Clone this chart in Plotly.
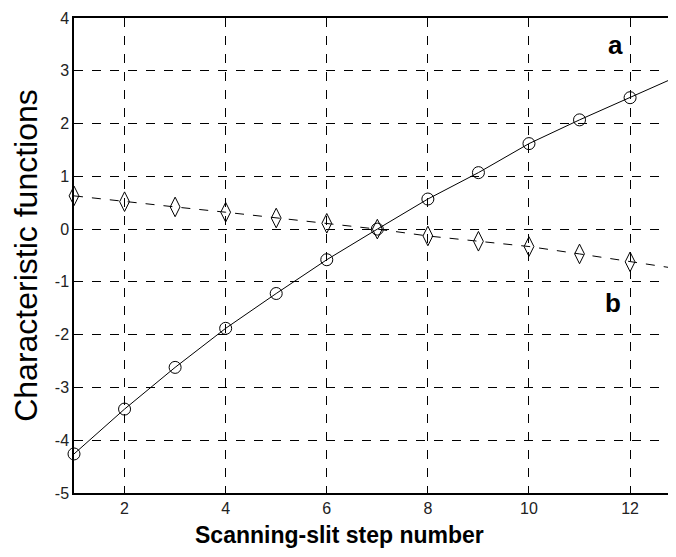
import plotly.graph_objects as go

steps = list(range(1, 14))
curve_a = [-4.26, -3.41, -2.62, -1.88, -1.22, -0.58, 0.0, 0.57, 1.07, 1.62, 2.07, 2.49, 2.92]
curve_b = [0.63, 0.52, 0.42, 0.32, 0.21, 0.11, 0.0, -0.13, -0.23, -0.33, -0.47, -0.62, -0.76]
x_ticks = [2, 4, 6, 8, 10, 12]
y_ticks = [-5, -4, -3, -2, -1, 0, 1, 2, 3, 4]
y_tick_text = [str(v) for v in y_ticks]

FONT = "Liberation Sans, Arial"

fig = go.Figure()
fig.add_trace(go.Scatter(
    x=steps, y=curve_b, mode="lines+markers",
    line=dict(color="black", width=1, dash="dash"),
    marker=dict(symbol="diamond-tall-open", size=14, color="black", line=dict(width=1)),
    showlegend=False, cliponaxis=False))
fig.add_trace(go.Scatter(
    x=steps, y=curve_a, mode="lines+markers",
    line=dict(color="black", width=1),
    marker=dict(symbol="circle-open", size=12, color="black", line=dict(width=1)),
    showlegend=False, cliponaxis=False))

fig.add_annotation(x=11.72, y=3.49, text="<b>a</b>", showarrow=False,
                   font=dict(family=FONT, size=26, color="black"))
fig.add_annotation(x=11.66, y=-1.40, text="<b>b</b>", showarrow=False,
                   font=dict(family=FONT, size=26, color="black"))
fig.add_annotation(x=6.26, xref="x", y=-0.088, yref="paper", yanchor="middle",
                   text="<b>Scanning-slit step number</b>", showarrow=False,
                   font=dict(family=FONT, size=23, color="black"))

fig.update_xaxes(range=[1, 12.75], tickvals=x_ticks, ticks="inside", ticklen=6,
                 tickcolor="black", showline=True, linecolor="black", linewidth=1.5,
                 mirror=True, showgrid=True, gridcolor="black", griddash="dash",
                 gridwidth=1, zeroline=False, automargin=False, ticklabeloverflow="allow",
                 tickfont=dict(family=FONT, size=16, color="#222"))
fig.update_yaxes(range=[-5, 4], tickvals=y_ticks, ticktext=y_tick_text, ticks="inside", ticklen=6,
                 tickcolor="black", showline=True, linecolor="black", linewidth=1.5,
                 mirror=False, showgrid=True, gridcolor="black", griddash="dash",
                 gridwidth=1, zeroline=False, automargin=False, ticklabeloverflow="allow",
                 tickfont=dict(family=FONT, size=16, color="#222"),
                 title=dict(text="Characteristic functions", standoff=12,
                            font=dict(family=FONT, size=32, color="black")))

fig.update_layout(width=660, height=541, plot_bgcolor="white", paper_bgcolor="white",
                  margin=dict(l=66, r=0, t=10, b=56))

fig.write_html("out.html")
